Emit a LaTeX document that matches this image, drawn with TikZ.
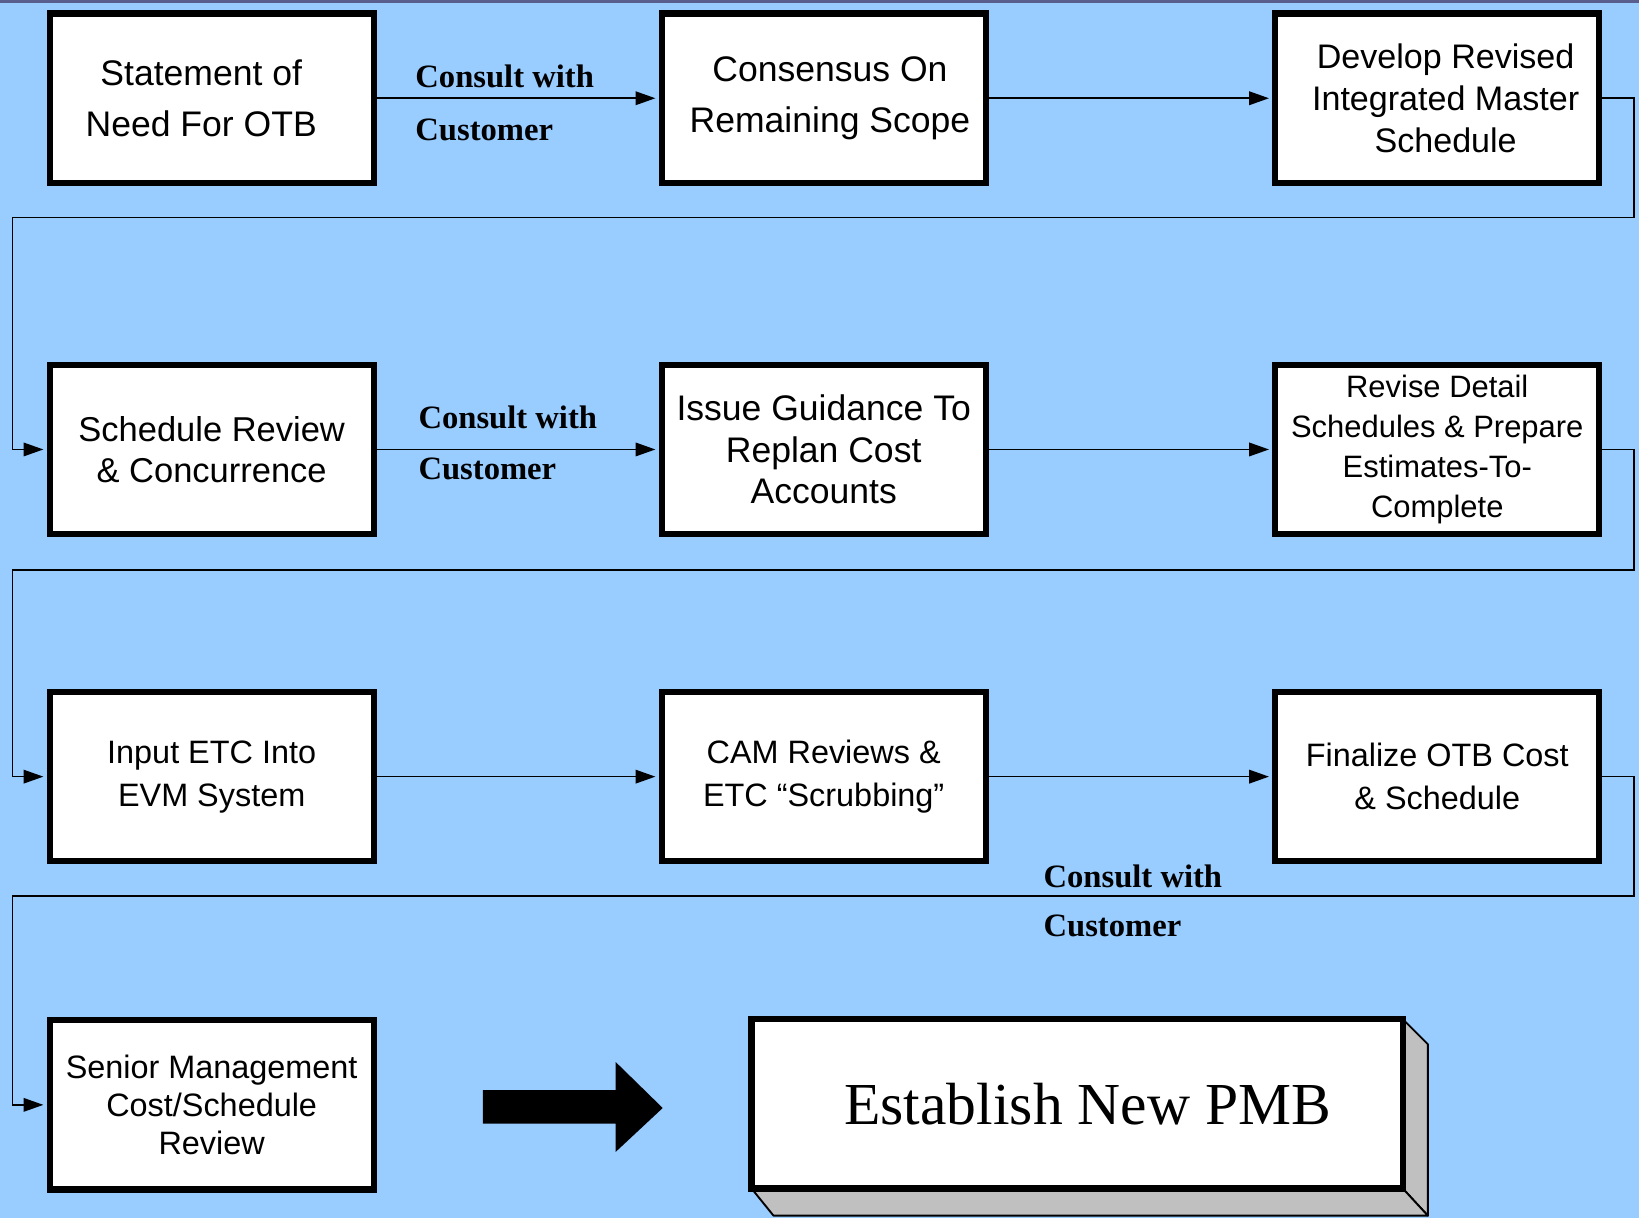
\documentclass[tikz,border=0pt]{standalone}
\usepackage{fontspec}
\setmainfont{Liberation Serif}
\setsansfont{Liberation Sans}
\usetikzlibrary{arrows.meta}
\definecolor{bgblue}{RGB}{153,204,255}
\definecolor{topstrip}{RGB}{90,94,140}
\definecolor{sidegray}{RGB}{192,192,192}
\newcommand\fsz[2]{\fontsize{#1}{#2}\selectfont}
\tikzset{
  box/.style={draw=black, line width=3pt, fill=white, minimum width=155pt,
    minimum height=81pt, inner sep=1pt, align=center, font=\sffamily},
  conn/.style={line width=0.8pt, -{Triangle[length=9.5pt,width=6.5pt]}, shorten >=1.5pt},
  lbl/.style={anchor=west, inner sep=0pt, font=\bfseries\fsz{15.6}{18}}
}
\begin{document}
\begin{tikzpicture}[x=0.5pt,y=-0.5pt]
\fill[bgblue] (0,0) rectangle (1568,1165);
\useasboundingbox (0,0) rectangle (1568,1165);
\fill[topstrip] (0,0) rectangle (1568,3);

% row 1
\node[box, font=\sffamily\fsz{17}{24}] (b1) at (202.5,94) {Statement of\hspace*{10pt}\\Need For OTB\hspace*{10pt}};
\node[box, font=\sffamily\fsz{17}{24.5}] (b2) at (788,94) {\hspace*{6pt}Consensus On\\\hspace*{6pt}Remaining Scope};
\node[box, font=\sffamily\fsz{16.3}{20}] (b3) at (1375,94) {\hspace*{8pt}Develop Revised\\\hspace*{8pt}Integrated Master\\\hspace*{8pt}Schedule};
% row 2
\node[box, font=\sffamily\fsz{16.5}{19.5}] (b4) at (202.5,430) {Schedule Review\\\& Concurrence};
\node[box, font=\sffamily\fsz{17}{20}] (b5) at (788,430) {Issue Guidance To\\Replan Cost\\Accounts};
\node[box, font=\sffamily\fsz{14.8}{19}] (b6) at (1375,430) {Revise Detail\\Schedules \& Prepare\\Estimates-To-\\Complete};
% row 3
\node[box, font=\sffamily\fsz{15.5}{20.5}] (b7) at (202.5,743) {Input ETC Into\\EVM System};
\node[box, font=\sffamily\fsz{15.5}{20.5}] (b8) at (788,743) {CAM Reviews \&\\ETC “Scrubbing”};
\node[box, font=\sffamily\fsz{15.5}{20.5}] (b9) at (1375,743) {Finalize OTB Cost\\\& Schedule};
% row 4
\node[box, font=\sffamily\fsz{15.5}{18}] (b10) at (202.5,1057) {Senior Management\\Cost/Schedule\\Review};

% PMB 3D box
\filldraw[fill=sidegray, draw=black, line width=0.9pt, line join=round]
  (1342,975) -- (1366,999) -- (1366,1163) -- (1342,1137) -- cycle;
\filldraw[fill=sidegray, draw=black, line width=0.9pt, line join=round]
  (719,1137) -- (1342,1137) -- (1366,1163) -- (740,1163) -- cycle;
\node[draw=black, line width=3pt, fill=white, minimum width=311.5pt, minimum height=81pt,
  inner sep=0pt, font=\fsz{28.5}{34}] (pmb) at (1030.5,1056) {\hspace*{10pt}Establish New PMB};

% block arrow
\fill[black] (462,1043) -- (589,1043) -- (589,1016) -- (634,1060) -- (589,1102) -- (589,1075) -- (462,1075) -- cycle;

% connectors
\coordinate (r1a) at (1563,208);
\coordinate (r1b) at (12,208);
\coordinate (r2a) at (1563,545);
\coordinate (r2b) at (12,545);
\coordinate (r3a) at (1563,857);
\coordinate (r3b) at (12,857);

\draw[conn] (b1.east) -- (b2.west);
\draw[conn] (b2.east) -- (b3.west);
\draw[conn] (b3.east) -| (r1a) -- (r1b) |- (b4.west);
\draw[conn] (b4.east) -- (b5.west);
\draw[conn] (b5.east) -- (b6.west);
\draw[conn] (b6.east) -| (r2a) -- (r2b) |- (b7.west);
\draw[conn] (b7.east) -- (b8.west);
\draw[conn] (b8.east) -- (b9.west);
\draw[conn] (b9.east) -| (r3a) -- (r3b) |- (b10.west);

% labels
\node[lbl] (l1a) at (397,73) {Consult with};
\node[lbl] (l1b) at (397,124) {Customer};
\node[lbl] (l2a) at (400,399) {Consult with};
\node[lbl] (l2b) at (400,449) {Customer};
\node[lbl] (l3a) at (998,838) {Consult with};
\node[lbl] (l3b) at (998,886) {Customer};
\end{tikzpicture}
\end{document}
